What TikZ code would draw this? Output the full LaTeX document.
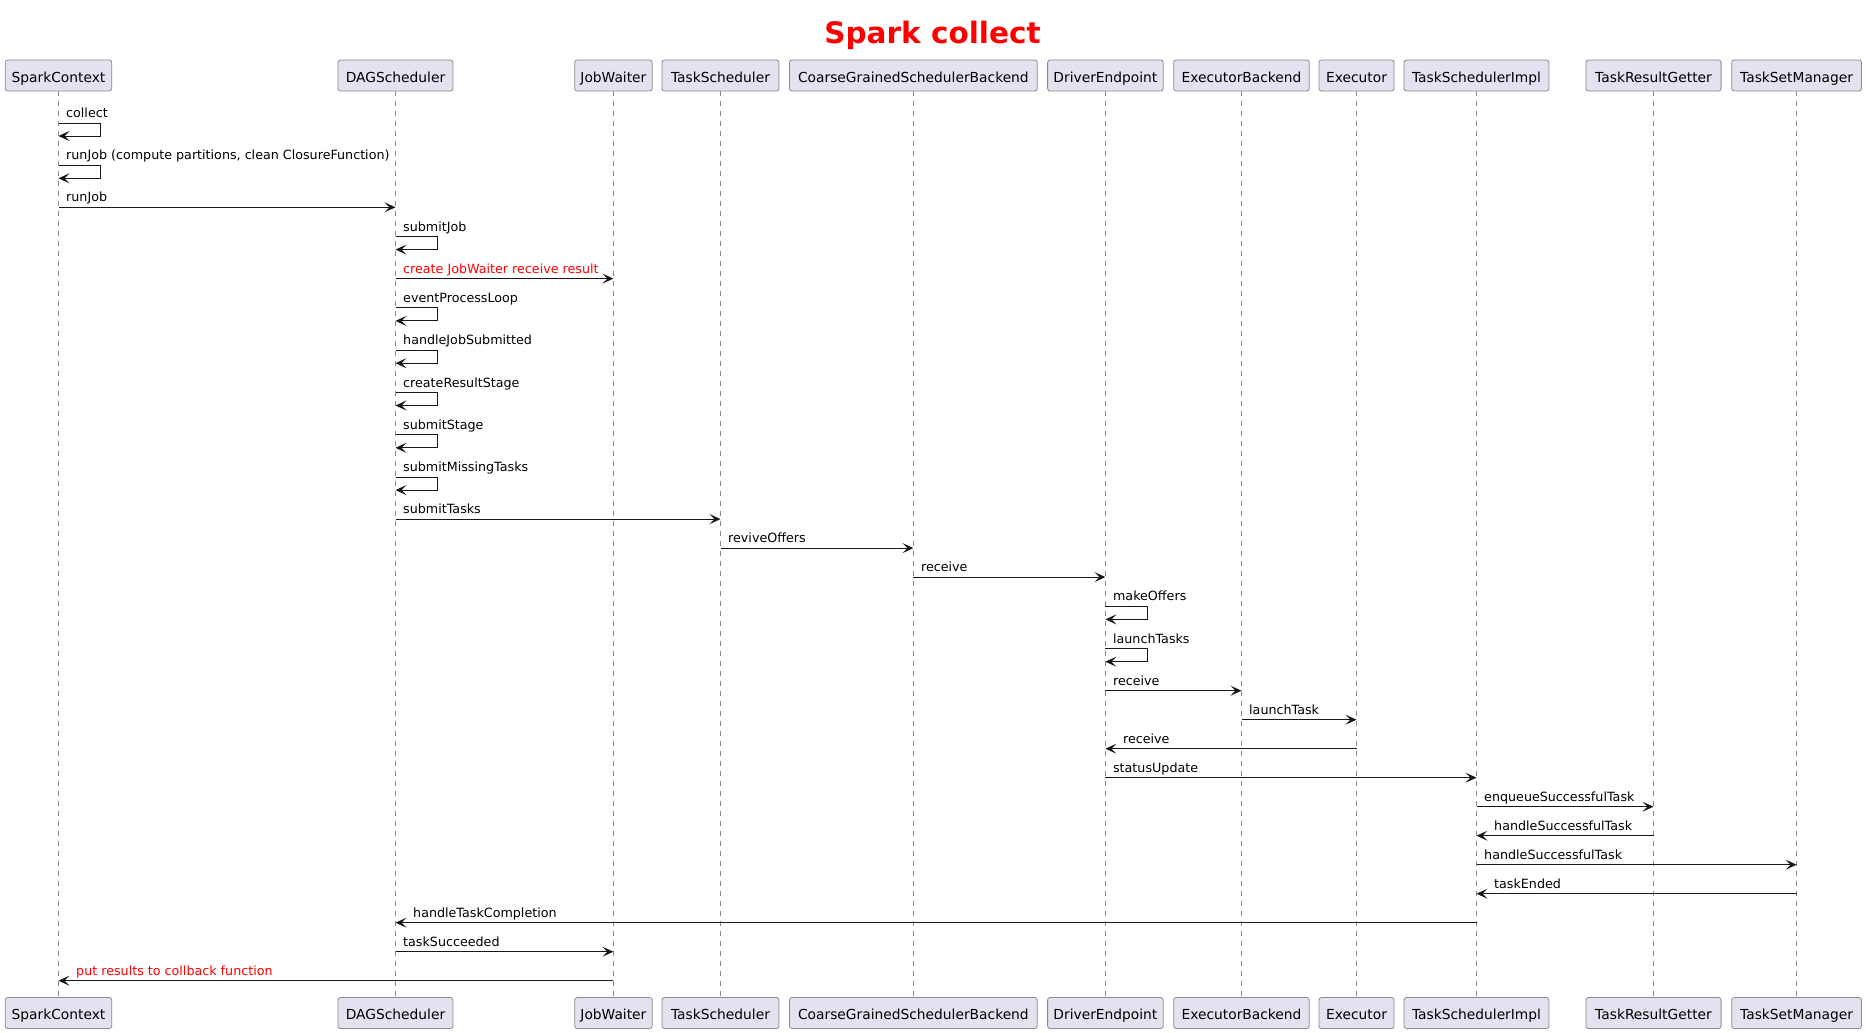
\documentclass[tikz,border=0pt]{standalone}
\usepackage{fontspec}
\setmainfont{DejaVu Sans}
\usetikzlibrary{arrows.meta,calc}
\definecolor{boxfill}{HTML}{E2E2F0}
\definecolor{boxline}{HTML}{8A8A8A}
\definecolor{lifecol}{HTML}{8A8A8A}
\definecolor{arrowcol}{HTML}{181818}
\definecolor{titlered}{HTML}{FF0000}

\newcommand{\partpair}[4]{%
  \node[part, minimum width=#3] (#1) at (#2,-75.5) {#4};
  \node[part, minimum width=#3] (#1b) at (#2,-1013) {#4};
  \draw[lifeline] (#1.south) -- (#1b.north);
}
% #1 colour, #2 source, #3 target, #4 y, #5 label
\newcommand{\msgright}[5][black]{%
  \draw[msg] (#2 |- 0,-#4) -- (#3 |- 0,-#4);
  \node[lbl, text=#1] at ($(#2 |- 0,-#4)+(7.5,5.5)$) {#5};
}
\newcommand{\msgleft}[5][black]{%
  \draw[msg] (#2 |- 0,-#4) -- (#3 |- 0,-#4);
  \node[lbl, text=#1] at ($(#3 |- 0,-#4)+(17.5,5.5)$) {#5};
}
% #1 participant, #2 y of the lower (returning) line, #3 label
\newcommand{\msgself}[3]{%
  \draw[msg] ($(#1 |- 0,-#2)+(0,13)$) -- ++(42,0) -- ++(0,-13) -- (#1 |- 0,-#2);
  \node[lbl] at ($(#1 |- 0,-#2)+(7.5,18.5)$) {#3};
}

\begin{document}
\begin{tikzpicture}[x=1pt,y=1pt,
  part/.style={draw=boxline, fill=boxfill, rounded corners=2.5pt, line width=0.8pt,
    minimum height=31pt, inner sep=0pt, text height=13pt, text depth=0pt,
    font=\fontsize{13.8}{16}\selectfont},
  lifeline/.style={draw=lifecol, line width=0.7pt, dash pattern=on 5pt off 5pt},
  msg/.style={draw=arrowcol, line width=1pt, -{Stealth[length=11pt,width=10pt,inset=5pt]}},
  lbl/.style={inner sep=0pt, anchor=base west, font=\fontsize{12.7}{15}\selectfont},
]
\useasboundingbox (0,0) rectangle (1866,-1033);

\node[anchor=base, text=titlered, inner sep=0pt, font=\fontsize{29.5}{34}\selectfont\bfseries]
  (title) at (932.5,-43.5) {Spark collect};

\partpair{sc}{58.5}{106.6}{SparkContext}
\partpair{dag}{395.5}{115}{DAGScheduler}
\partpair{jw}{613.4}{77.5}{JobWaiter}
\partpair{ts}{720.5}{117}{TaskScheduler}
\partpair{cg}{913.4}{247.8}{CoarseGrainedSchedulerBackend}
\partpair{de}{1105.4}{115.6}{DriverEndpoint}
\partpair{eb}{1241.5}{135.6}{ExecutorBackend}
\partpair{ex}{1356.5}{75.1}{Executor}
\partpair{tsi}{1476.5}{145}{TaskSchedulerImpl}
\partpair{trg}{1653.5}{135.2}{TaskResultGetter}
\partpair{tsm}{1796.6}{129.7}{TaskSetManager}

\msgself{sc}{136.0}{collect}
\msgself{sc}{178.3}{runJob (compute partitions, clean ClosureFunction)}
\msgright{sc}{dag}{207.3}{runJob}
\msgself{dag}{249.6}{submitJob}
\msgright[titlered]{dag}{jw}{278.6}{create JobWaiter receive result}
\msgself{dag}{320.9}{eventProcessLoop}
\msgself{dag}{363.2}{handleJobSubmitted}
\msgself{dag}{405.5}{createResultStage}
\msgself{dag}{447.8}{submitStage}
\msgself{dag}{490.1}{submitMissingTasks}
\msgright{dag}{ts}{519.1}{submitTasks}
\msgright{ts}{cg}{548.1}{reviveOffers}
\msgright{cg}{de}{577.1}{receive}
\msgself{de}{619.4}{makeOffers}
\msgself{de}{661.7}{launchTasks}
\msgright{de}{eb}{690.7}{receive}
\msgright{eb}{ex}{719.7}{launchTask}
\msgleft{ex}{de}{748.7}{receive}
\msgright{de}{tsi}{777.7}{statusUpdate}
\msgright{tsi}{trg}{806.7}{enqueueSuccessfulTask}
\msgleft{trg}{tsi}{835.7}{handleSuccessfulTask}
\msgright{tsi}{tsm}{864.7}{handleSuccessfulTask}
\msgleft{tsm}{tsi}{893.7}{taskEnded}
\msgleft{tsi}{dag}{922.7}{handleTaskCompletion}
\msgright{dag}{jw}{951.7}{taskSucceeded}
\msgleft[titlered]{jw}{sc}{980.7}{put results to collback function}
\end{tikzpicture}
\end{document}
